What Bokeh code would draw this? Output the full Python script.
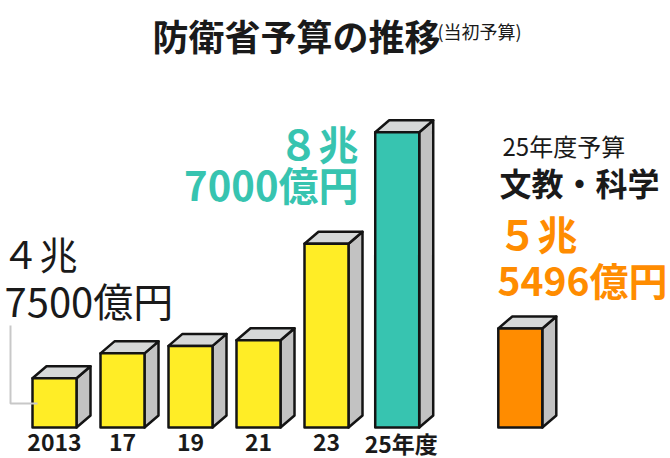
from bokeh.plotting import figure
from bokeh.models import Range1d
from bokeh.core.properties import value
from bokeh.embed import file_html
from bokeh.resources import INLINE

# ---- data (兆円) ----
years = ["2013", "17", "19", "21", "23", "25年度"]
defense = [4.75, 5.15, 5.27, 5.36, 6.91, 8.70]
defense_labels = [("４兆", "7500億円"), ("８兆", "7000億円")]
edu_title = ["25年度予算", "文教・科学"]
edu_value = 5.5496
edu_labels = ("５兆", "5496億円")
title = "防衛省予算の推移"
subtitle = "(当初予算)"

# ---- geometry ----
W, H = 670, 458
PXX, PXY = 68.0, 62.3          # px per x unit / per 1兆円
BASE = 3.96                    # value at bar bottom
x0 = -54 / PXX
x1 = x0 + W / PXX
y1 = BASE + 427 / PXY
y0 = y1 - H / PXY


def fx(X):
    return x0 + X / PXX


def fy(Y):
    return y1 - Y / PXY


positions = [0, 1, 2, 3, 4, 5.04]
edu_pos = 6.85
half = 22 / PXX
dx = 14 / PXX
dy = 12 / PXY

YELLOW = "#FFED26"
TEAL = "#37C4B0"
ORANGE = "#FF8C00"
SIDE = "#C2C2C2"
TOP = "#D6D8D8"
EDGE = "#141414"
INK = "#1a1a1a"
FONT = value("Noto Sans CJK JP")

p = figure(width=W, height=H, x_range=Range1d(x0, x1), y_range=Range1d(y0, y1),
           output_backend="svg", toolbar_location=None, min_border=0,
           x_axis_type=None, y_axis_type=None)
p.grid.visible = False
p.outline_line_color = None
p.background_fill_color = "white"
p.border_fill_color = "white"

xs_all = positions + [edu_pos]
vals_all = defense + [edu_value]
cols_all = [YELLOW] * (len(defense) - 1) + [TEAL] + [ORANGE]

side_xs, side_ys, top_xs, top_ys = [], [], [], []
for x, v in zip(xs_all, vals_all):
    l, r = x - half, x + half
    side_xs.append([r, r + dx, r + dx, r])
    side_ys.append([BASE, BASE + dy, v + dy, v])
    top_xs.append([l, r, r + dx, l + dx])
    top_ys.append([v, v, v + dy, v + dy])

p.patches(side_xs, side_ys, fill_color=SIDE, line_color=EDGE, line_width=2.5, line_join="round")
p.patches(top_xs, top_ys, fill_color=TOP, line_color=EDGE, line_width=2.5, line_join="round")
p.quad(left=[x - half for x in xs_all], right=[x + half for x in xs_all],
       bottom=[BASE] * len(xs_all), top=vals_all, fill_color=cols_all,
       line_color=EDGE, line_width=2.5, line_join="round")

# leader line for 2013
lx = positions[0] - half - 22 / PXX
p.line([lx, lx, positions[0] - half + 5 / PXX], [fy(325), fy(403), fy(403)],
       line_color="#C8C8C8", line_width=2)

# year labels
p.text(x=positions, y=[fy(442)] * len(years), text=years, text_align="center",
       text_baseline="alphabetic", text_font=FONT, text_font_size="23px",
       text_font_style="bold", text_color=INK,
       x_offset=[0, 0, 0, 0, 0, 4])

# title
p.text(x=[fx(152)], y=[fy(34)], text=[title], text_font=FONT, text_font_size="36px",
       text_font_style="bold", text_color=INK, text_baseline="alphabetic")
p.text(x=[fx(437)], y=[fy(30)], text=[subtitle], text_font=FONT, text_font_size="18px",
       text_color=INK, text_baseline="alphabetic")

# 2013 label
p.text(x=[fx(1)], y=[fy(252)], text=[defense_labels[0][0]], text_font=FONT,
       text_font_size="38px", text_color=INK, text_baseline="alphabetic")
p.text(x=[fx(4)], y=[fy(299)], text=[defense_labels[0][1]], text_font=FONT,
       text_font_size="40px", text_color=INK, text_baseline="alphabetic")

# 25年度 label
p.text(x=[fx(358)] * 2, y=[fy(142), fy(183)], text=list(defense_labels[1]), text_font=FONT,
       text_font_size="40px", text_font_style="bold", text_color=TEAL,
       text_align="right", text_baseline="alphabetic")

# 文教・科学
p.text(x=[fx(502)], y=[fy(145)], text=[edu_title[0]], text_font=FONT,
       text_font_size="24px", text_color=INK, text_baseline="alphabetic")
p.text(x=[fx(499)], y=[fy(181)], text=[edu_title[1]], text_font=FONT,
       text_font_size="32px", text_font_style="bold", text_color=INK,
       text_baseline="alphabetic")
p.text(x=[fx(497)], y=[fy(232)], text=[edu_labels[0]], text_font=FONT,
       text_font_size="40px", text_font_style="bold", text_color=ORANGE,
       text_baseline="alphabetic")
p.text(x=[fx(497)], y=[fy(278)], text=[edu_labels[1]], text_font=FONT,
       text_font_size="39px", text_font_style="bold", text_color=ORANGE,
       text_baseline="alphabetic")

open("out.html", "w").write(file_html(p, INLINE))
